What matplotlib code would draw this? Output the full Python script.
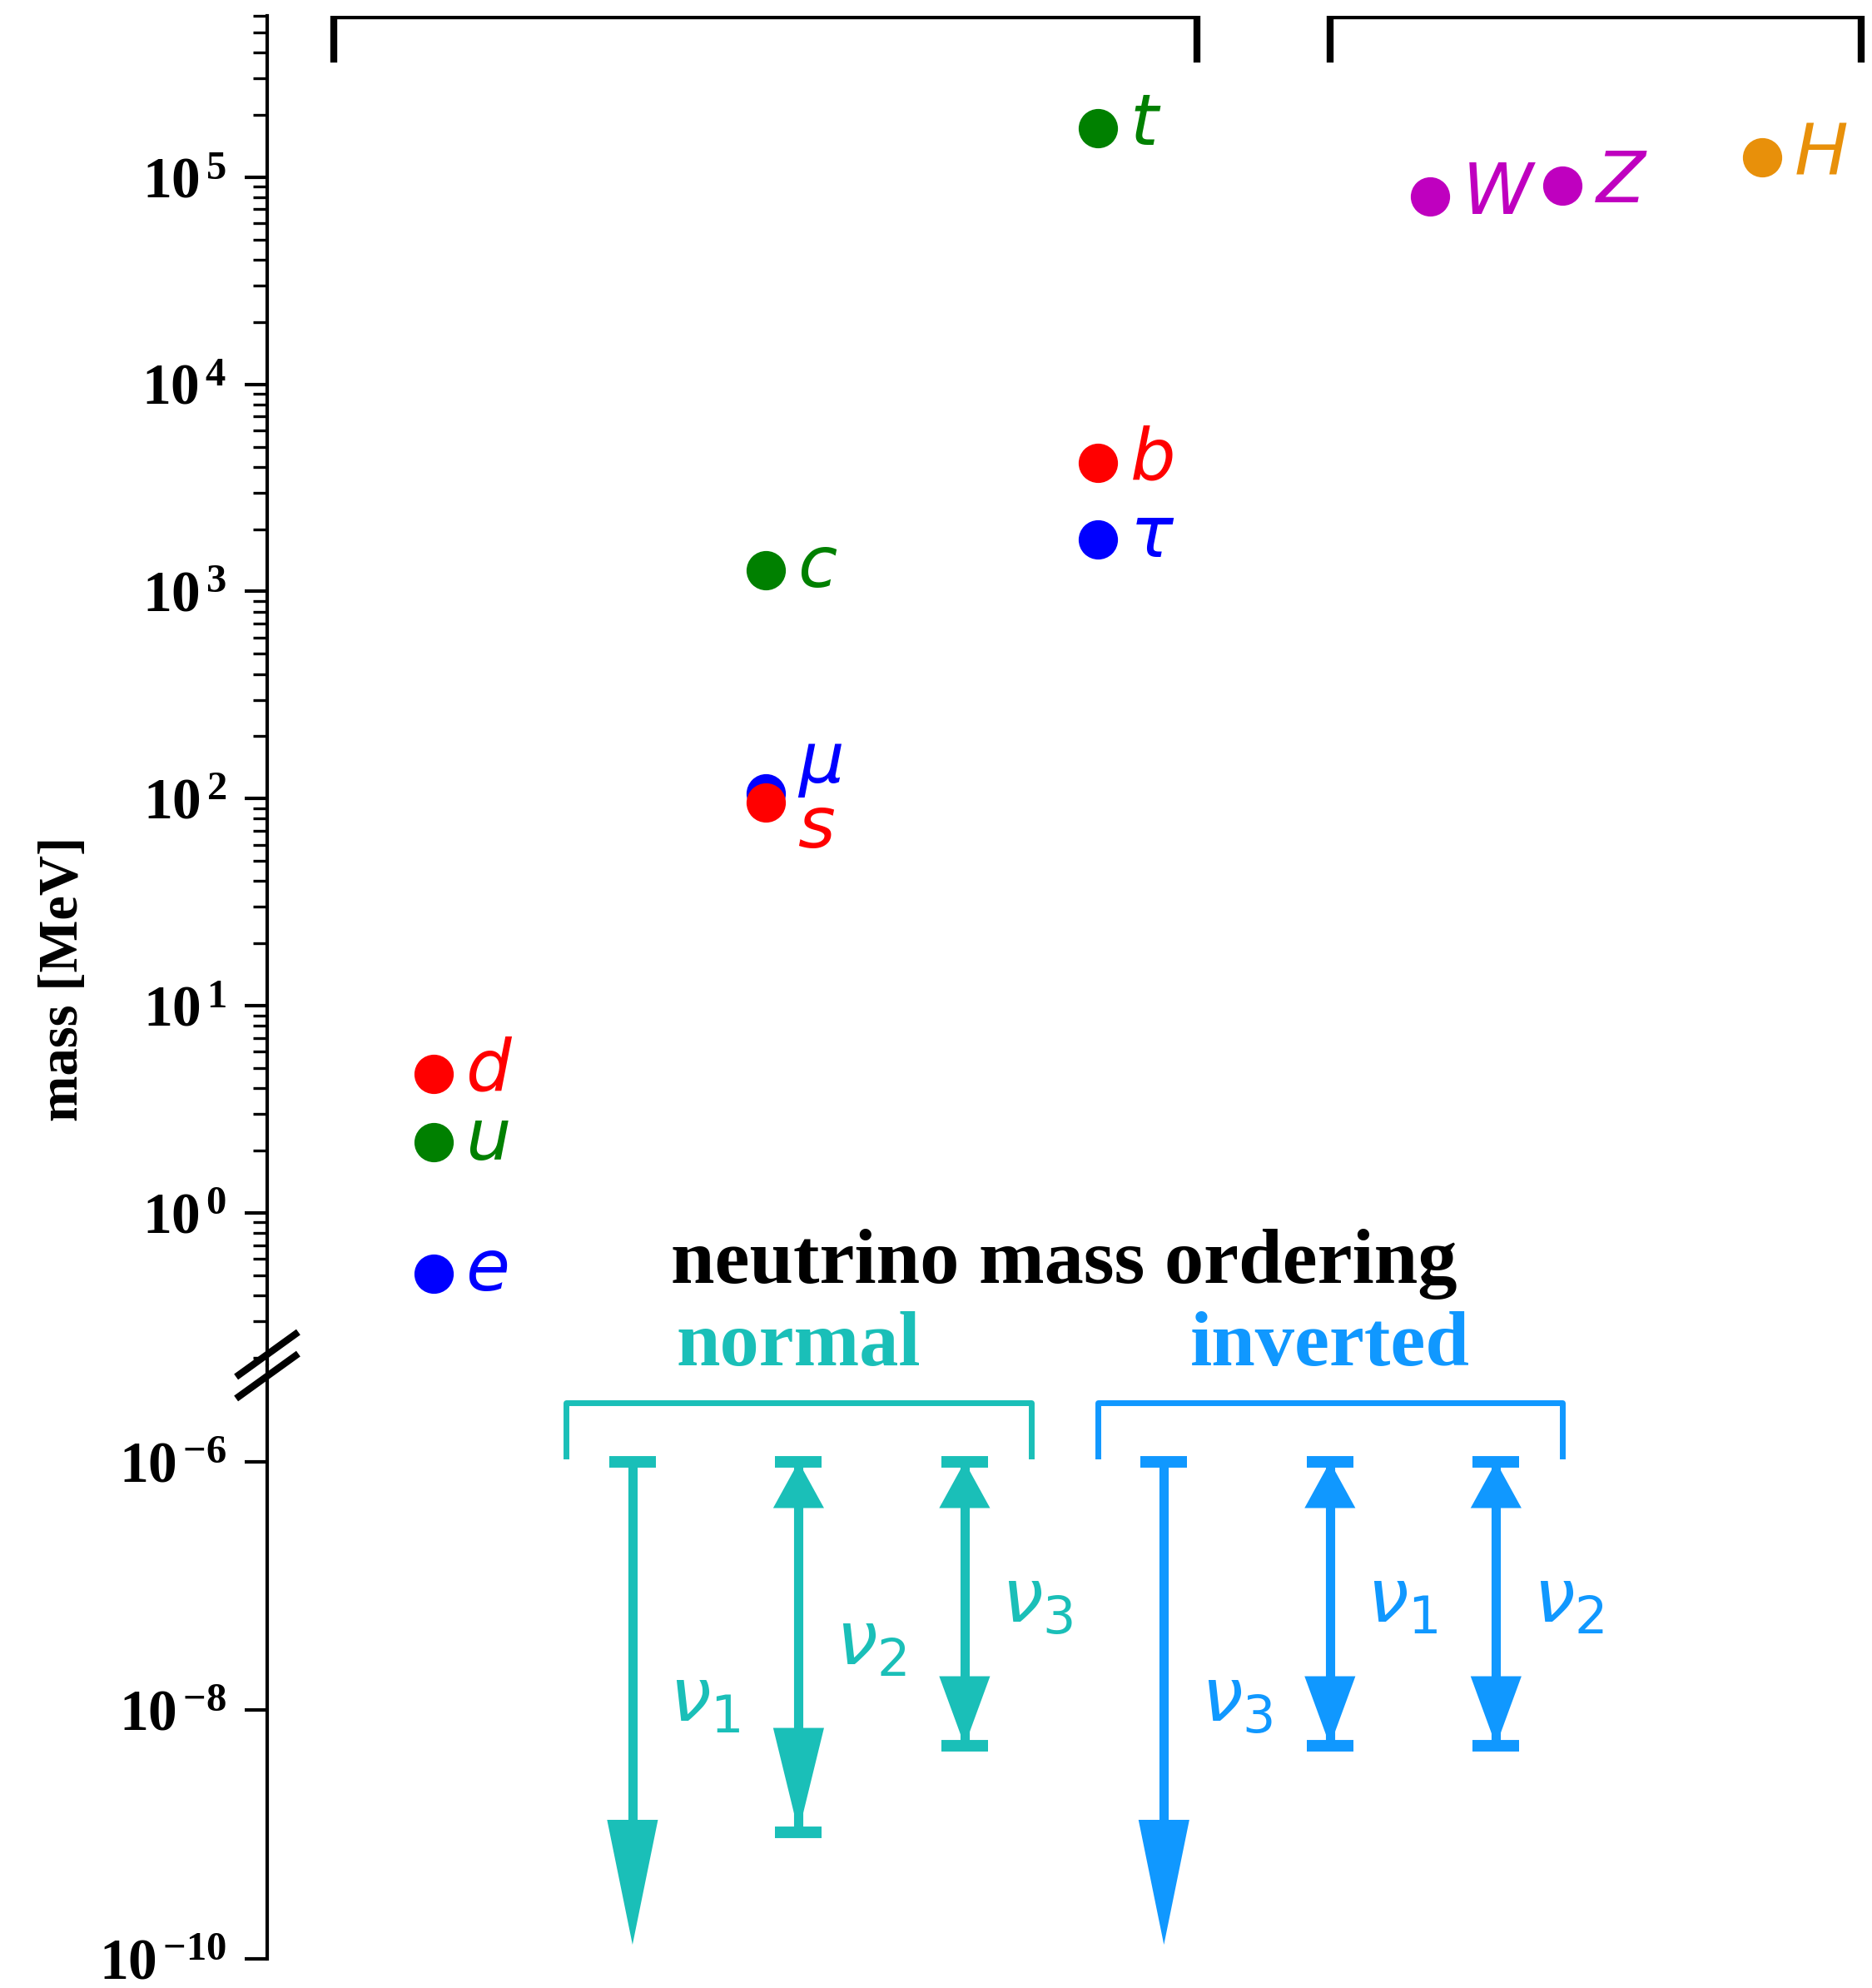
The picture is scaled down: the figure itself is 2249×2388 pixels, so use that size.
import matplotlib.pyplot as plt
import numpy as np
from matplotlib.lines import Line2D
from matplotlib.ticker import FixedLocator, LogLocator, NullFormatter, FuncFormatter

plt.rcParams['font.family'] = ['Liberation Serif', 'DejaVu Sans']
plt.rcParams['mathtext.fontset'] = 'custom'
plt.rcParams['mathtext.rm'] = 'Liberation Serif:bold'
plt.rcParams['mathtext.bf'] = 'Liberation Serif:bold'
plt.rcParams['mathtext.it'] = 'Liberation Serif:italic:bold'

# charged fermions + bosons, mass in MeV
names = ['e', 'u', 'd', r'\mu', 's', 'c', r'\tau', 'b', 't', 'W', 'Z', 'H']
xpos = [1, 1, 1, 2, 2, 2, 3, 3, 3, 4, 4.4, 5]
masses = [0.511, 2.2, 4.7, 105.7, 96, 1270, 1777, 4180, 173000, 80400, 91200, 125000]
colors = ['b', 'g', 'r', 'b', 'r', 'g', 'b', 'r', 'g', 'm', 'm', '#e8900a']
label_dy = [0, 0, 0, 12, -12, 0, 0, 0, 0, 0, 0, 0]  # points, to keep mu / s apart

top_ticks = [1e0, 1e1, 1e2, 1e3, 1e4, 1e5]
low_ticks = [1e-10, 1e-8, 1e-6]

# neutrinos (MeV): upper bound shared, lower bound None = open down to zero
nu_upper = 1e-6
nu_floor = 1.3e-10
normal_x = [1.6, 2.1, 2.6]
normal_lower = [None, 1.05e-9, 5.2e-9]
normal_labels = [r'$\nu_1$', r'$\nu_2$', r'$\nu_3$']
inverted_x = [3.2, 3.7, 4.2]
inverted_lower = [None, 5.2e-9, 5.2e-9]
inverted_labels = [r'$\nu_3$', r'$\nu_1$', r'$\nu_2$']
normal_head = [54, 45, 30]     # length of lower arrow head, points
inverted_head = [54, 30, 30]
c_normal = '#1abfb8'
c_inverted = '#1098ff'

W, H = 2249, 2388
fig = plt.figure(figsize=(W / 200, H / 200), dpi=200)
left = 321 / W
y_break = 1 - 1640 / H
ax_top = fig.add_axes([left, y_break, 1 - left, 0.992 - y_break])
ax_bot = fig.add_axes([left, 1 - 2353 / H, 1 - left, y_break - (1 - 2353 / H)])

def pow_label(v, pos):
    e = int(round(np.log10(v)))
    return r'$\mathbf{10}^{\,\mathbf{%d}}$' % e

for ax in (ax_top, ax_bot):
    ax.set_yscale('log')
    ax.set_xlim(0.5, 5.332)
    for s in ('top', 'right', 'bottom'):
        ax.spines[s].set_visible(False)
    ax.spines['left'].set_linewidth(1.5)
    ax.set_xticks([])
    ax.yaxis.set_major_formatter(FuncFormatter(pow_label))
    ax.tick_params(axis='y', which='major', length=9.6, width=1.5, labelsize=25, pad=8)
    ax.tick_params(axis='y', which='minor', length=6, width=1.2)

ax_top.set_ylim(0.184, 6e5)
ax_top.yaxis.set_major_locator(FixedLocator(top_ticks))
ax_top.yaxis.set_minor_locator(LogLocator(base=10, subs=np.arange(2, 10), numticks=50))
ax_top.yaxis.set_minor_formatter(NullFormatter())

ax_bot.set_ylim(1e-10, 5.98e-6)
ax_bot.yaxis.set_major_locator(FixedLocator(low_ticks))
ax_bot.yaxis.set_minor_locator(FixedLocator([]))

# charged particles
for n, x, m, c, dy in zip(names, xpos, masses, colors, label_dy):
    ax_top.plot(x, m, 'o', color=c, ms=16, clip_on=False)
    ax_top.annotate('$%s$' % n, xy=(x, m), xytext=(14, dy), textcoords='offset points',
                    ha='left', va='center', fontsize=31, color=c,
                    math_fontfamily='dejavusans')

# brackets on top: fermion generations / bosons
ferm_x = xpos[:9]
bos_x = xpos[9:]
for lo, hi in [(min(ferm_x) - 0.3, max(ferm_x) + 0.3), (min(bos_x) - 0.3, max(bos_x) + 0.3)]:
    ytop = ax_top.get_ylim()[1]
    ax_top.plot([lo, lo, hi, hi], [ytop / 1.62, ytop, ytop, ytop / 1.62], color='k', lw=3)

# neutrino panel
def head(x, tip, base, length, c):
    # filled head only; shaft is drawn with plot
    ax_bot.annotate('', xy=(x, tip), xytext=(x, base),
                    arrowprops=dict(arrowstyle='-|>,head_length=%g,head_width=11' % length,
                                    mutation_scale=1, lw=0, color=c, shrinkA=0, shrinkB=0))

def nu_group(xs, lowers, labels, heads, c):
    for x, lo, lab, hl in zip(xs, lowers, labels, heads):
        ax_bot.plot(x, nu_upper, marker='_', ms=20, mew=5, color=c)
        if lo is None:
            ax_bot.plot([x, x], [nu_upper, nu_floor * 3], color=c, lw=4)
            head(x, nu_floor, nu_upper, hl, c)
            mid = np.sqrt(nu_upper * nu_floor)
        else:
            mid = np.sqrt(nu_upper * lo)
            ax_bot.plot([x, x], [nu_upper, lo], color=c, lw=4)
            ax_bot.plot(x, lo, marker='_', ms=20, mew=5, color=c)
            head(x, nu_upper, mid, 20, c)
            head(x, lo, mid, hl, c)
        ax_bot.annotate(lab, xy=(x, mid), xytext=(16, 0), textcoords='offset points',
                        ha='left', va='center', fontsize=32, color=c,
                        math_fontfamily='dejavusans')
    lo_x, hi_x = min(xs) - 0.2, max(xs) + 0.2
    ax_bot.plot([lo_x, lo_x, hi_x, hi_x], [1.12e-6, 3.0e-6, 3.0e-6, 1.12e-6],
                color=c, lw=2.5, clip_on=False)

nu_group(normal_x, normal_lower, normal_labels, normal_head, c_normal)
nu_group(inverted_x, inverted_lower, inverted_labels, inverted_head, c_inverted)

ax_bot.text(np.mean(normal_x + inverted_x), 3.9e-5, 'neutrino mass ordering',
            ha='center', va='center', fontsize=34, fontweight='bold', color='k')
ax_bot.text(np.mean(normal_x), 8.5e-6, 'normal', ha='center', va='center',
            fontsize=34, fontweight='bold', color=c_normal)
ax_bot.text(np.mean(inverted_x), 8.5e-6, 'inverted', ha='center', va='center',
            fontsize=34, fontweight='bold', color=c_inverted)

# axis break marks
dx, dy, off = 34 / W, 24.5 / H, 13 / H
for o in (off, -off):
    fig.add_artist(Line2D([left - dx, left + dx], [y_break + o - dy, y_break + o + dy],
                          color='k', lw=3))

fig.text(0.034, 0.5076, 'mass [MeV]', rotation=90, ha='center', va='center',
         fontsize=24, fontweight='bold')

fig.savefig('out.png', dpi=200)
